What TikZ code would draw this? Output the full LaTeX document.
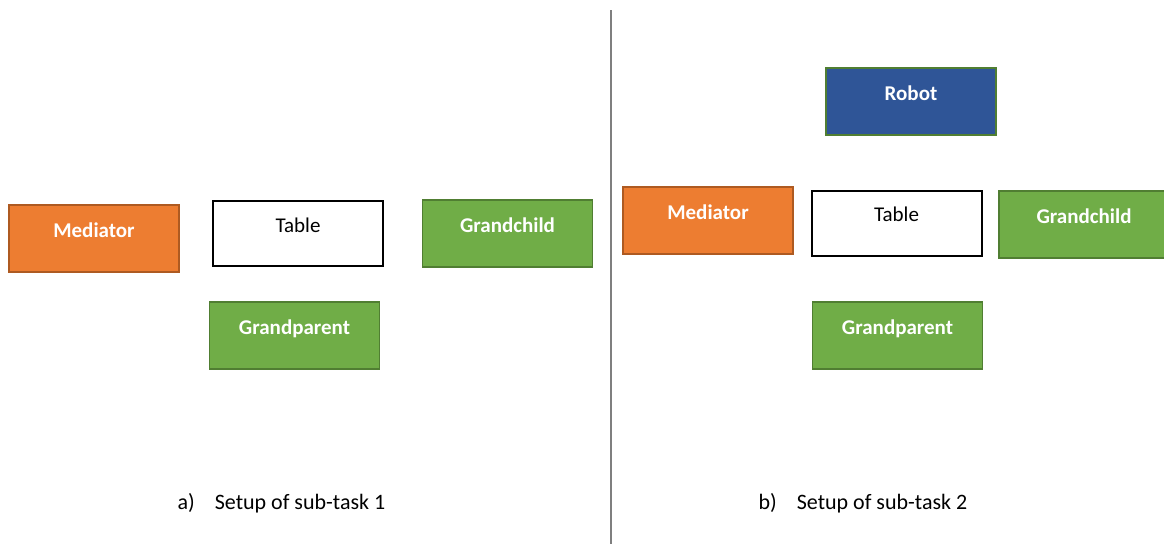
\documentclass[tikz,border=0pt]{standalone}
\usepackage{fontspec}
\setmainfont{Carlito}
\usepackage{tikz}
\usetikzlibrary{positioning}
\definecolor{orangefill}{HTML}{ED7D31}
\definecolor{orangeline}{HTML}{AE5A21}
\definecolor{greenfill}{HTML}{70AD47}
\definecolor{greenline}{HTML}{507E32}
\definecolor{bluefill}{HTML}{2F5597}
\definecolor{dividergray}{HTML}{7F7F7F}

\tikzset{
	agent/.style={rectangle,draw,line width=1.5pt,minimum width=170pt,minimum height=67pt,
		inner sep=0pt,text height=14pt,text depth=17pt,text=white,font=\fontsize{21}{25}\selectfont\bfseries},
	mediator/.style={agent,fill=orangefill,draw=orangeline},
	family/.style={agent,fill=greenfill,draw=greenline},
	robot/.style={agent,fill=bluefill,draw=greenline},
	table/.style={agent,fill=white,draw=black,line width=2pt,text=black,font=\fontsize{21}{25}\selectfont,minimum height=65pt},
	caption/.style={font=\fontsize{22}{26}\selectfont,inner sep=0pt}
}

\begin{document}
\begin{tikzpicture}[x=1pt,y=-1pt]
	\useasboundingbox (0,0) rectangle (1164,544);
	% sub-task 1
	\path
	(94,238.5) node(med1) [mediator] {Mediator}
	(298,233.5) node(tab1) [table] {Table}
	(507.5,233.5) node(gc1) [family] {Grandchild}
	(294.5,335.5) node(gp1) [family] {Grandparent}
	(281.5,503) node(capa) [caption] {a)\hspace{20pt}Setup of sub-task 1};
	% sub-task 2
	\path
	(911,101.5) node(rob2) [robot] {Robot}
	(708,220.5) node(med2) [mediator] {Mediator}
	(896.5,223) node(tab2) [table] {Table}
	(1084,224.5) node(gc2) [family] {Grandchild}
	(897.5,335.5) node(gp2) [family] {Grandparent}
	(863,503) node(capb) [caption] {b)\hspace{20pt}Setup of sub-task 2};
	% divider
	\coordinate (divtop) at (611,10);
	\coordinate (divbot) at (611,544);
	\draw[dividergray,line width=1.5pt] (divtop) -- (divbot);
\end{tikzpicture}
\end{document}
